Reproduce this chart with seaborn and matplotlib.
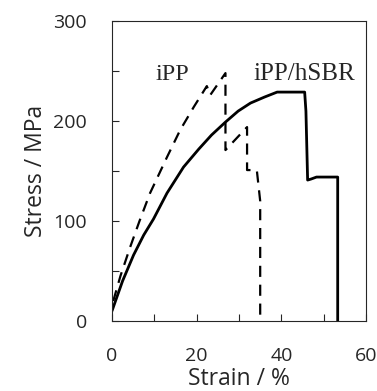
import numpy as np
import pandas as pd
import matplotlib
matplotlib.use('Agg')
import matplotlib.pyplot as plt
import seaborn as sns

# iPP/hSBR blend (solid)
blend_strain = [0.0, 2.5, 5.1, 7.5, 9.8, 13.0, 16.9, 20.5, 23.5, 26.8, 29.8, 32.7, 36.0, 39.0, 45.5, 45.8, 46.2, 47.0, 48.3, 53.3, 53.3]
blend_stress = [10, 40, 66, 86, 102, 128, 154, 172, 186, 199, 210, 218, 224, 229, 229, 210, 141, 142, 144, 144, 0]

# neat iPP (dashed)
ipp_strain = [0.3, 2.0, 4.3, 6.5, 9.0, 13.0, 16.1, 19.3, 22.4, 23.2, 26.8, 26.8, 31.9, 31.9, 34.2, 35.0, 35.0]
ipp_stress = [20, 45, 74, 100, 128, 164, 191, 214, 235, 226, 248, 171, 194, 151, 151, 120, 0]

blend = pd.DataFrame({'strain': blend_strain, 'stress': blend_stress})
ipp = pd.DataFrame({'strain': ipp_strain, 'stress': ipp_stress})

sns.set_style('ticks')
plt.rcParams['font.family'] = ['Open Sans', 'DejaVu Sans']

fig = plt.figure(figsize=(3.77, 3.91), dpi=100)
ax = fig.add_axes([0.297, 0.179, 0.674, 0.767])

sns.lineplot(data=blend, x='strain', y='stress', sort=False, estimator=None,
             color='black', linewidth=2, ax=ax)
sns.lineplot(data=ipp, x='strain', y='stress', sort=False, estimator=None,
             color='black', linewidth=1.6, ax=ax)
ax.lines[-1].set_dashes([5, 3.5])

ax.set_xlim(0, 60)
ax.set_ylim(0, 300)
ax.set_xticks([0, 20, 40, 60])
ax.set_xticks([10, 30, 50], minor=True)
ax.set_yticks([0, 100, 200, 300])
ax.set_yticks([50, 150, 250], minor=True)
ax.tick_params(which='both', direction='in', length=5, width=0.8, labelsize=14, pad=18)
ax.tick_params(axis='x', pad=19)
ax.set_xlabel('Strain / %', fontsize=16.5)
ax.xaxis.set_label_coords(0.5, -0.155)
ax.set_ylabel('Stress / MPa', fontsize=16.5, labelpad=4)
for s in ax.spines.values():
    s.set_linewidth(0.8)

ax.text(10.2, 241, 'iPP', family='Liberation Serif', fontsize=17.5)
ax.text(33.5, 241, 'iPP/hSBR', family='Liberation Serif', fontsize=18)

fig.savefig('out.png', dpi=100)
